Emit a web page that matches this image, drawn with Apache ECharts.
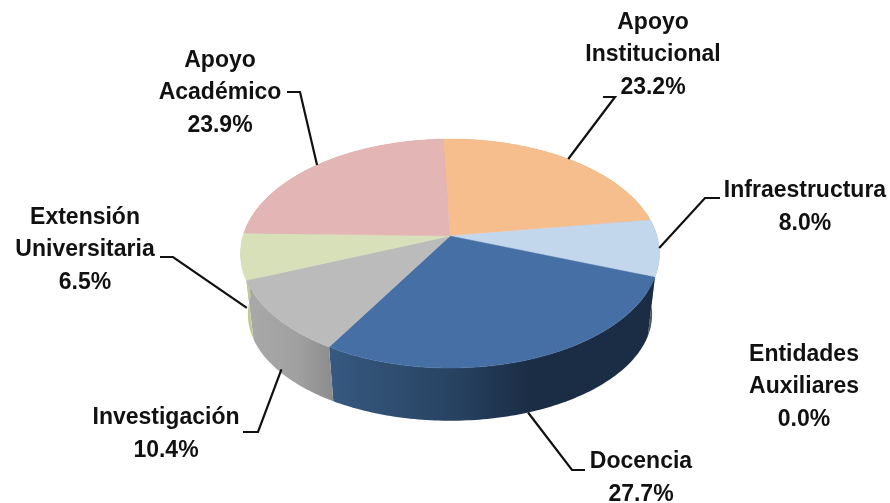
<!DOCTYPE html>
<html><head><meta charset="utf-8">
<style>html,body{margin:0;padding:0;background:#fff}#c{width:890px;height:503px}</style>
<script src="https://cdn.jsdelivr.net/npm/echarts@6/dist/echarts.min.js"></script>
</head><body><div id="c"></div>
<script>
const categories = ['Apoyo\nInstitucional','Infraestructura','Docencia','Investigación','Extensión\nUniversitaria','Apoyo\nAcadémico','Entidades\nAuxiliares'];
const shares = [23.2, 8.0, 27.7, 10.4, 6.5, 23.9, 0.0];

const topColors = ['#F6BE8D','#C3D7EC','#4670A5','#BBBBBB','#D7E0B9','#E3B6B5','#E8E8E8'];
const sideStops = [
  [[0,'#C4955F'],[1,'#C4955F']],
  [[0,'#22344C'],[0.6,'#5A6470'],[1,'#A0A8B0']],
  [[0,'#36597F'],[0.35,'#294565'],[0.62,'#1B2D45'],[1,'#1B2D45']],
  [[0,'#A9A9A9'],[0.6,'#A0A0A0'],[1,'#8C8C8C']],
  [[0,'#BFCC98'],[1,'#BFCC98']],
  [[0,'#B89090'],[1,'#B89090']],
  [[0,'#CCCCCC'],[1,'#CCCCCC']]
];
// geometry of the tilted disc (perspective projection of a circle)
const geo = {cx:450, cy:236, rx:207, ry:111.8, persp:0.153, start:-2.2,
             baseScaleX:0.965, baseScaleY:0.93, baseY:298};
// label layout: centre of text block, elbow start, elbow, rim fraction for leader end (0 top rim, 1 base rim)
const layout = [
  {x:653,y:54, from:[603,97], elbow:[615,97], rim:0},
  {x:805,y:206,from:[720,198],elbow:[705,198],rim:0},
  {x:641,y:477,from:[585,470],elbow:[572,470],rim:1},
  {x:166,y:433,from:[243,432],elbow:[258,432],rim:0.93},
  {x:85, y:249,from:[160,257],elbow:[173,257],rim:0.85},
  {x:220,y:92, from:[287,92], elbow:[300,92], rim:0},
  {x:804,y:386}
];
const FONT = {fontFamily:'"Liberation Sans", Arial, sans-serif', fontWeight:'bold', fontSize:23, lineHeight:32.5, fill:'#111'};

const total = shares.reduce((a,b)=>a+b,0);
const startAngles = [];
shares.reduce((acc,v,i)=>{startAngles[i]=acc; return acc+v/total*360;}, geo.start);

function rimTop(deg){
  const t=deg*Math.PI/180,u=Math.sin(t),v=-Math.cos(t),d=1-geo.persp*v;
  return [geo.rx*u/d, geo.ry*v/d];
}
function pt(deg,base){
  const p=rimTop(deg);
  return base?[geo.cx+p[0]*geo.baseScaleX, geo.baseY+p[1]*geo.baseScaleY]:[geo.cx+p[0], geo.cy+p[1]];
}
function arc(a0,a1,base){
  const out=[],n=Math.max(2,Math.ceil(a1-a0));
  for(let k=0;k<=n;k++) out.push(pt(a0+(a1-a0)*k/n,base));
  return out;
}
function span(api){
  const i=api.value(1), v=api.value(0);
  return {i,v,a0:startAngles[i],a1:startAngles[i]+v/total*360};
}
const rows = shares.map((v,i)=>[v,i]);

const chart = echarts.init(document.getElementById('c'),null,{renderer:'canvas'});
chart.setOption({
  animation:false,
  backgroundColor:'#fff',
  series:[
    {type:'custom',coordinateSystem:'none',silent:true,data:rows,z:1,
     renderItem(p,api){
       const s=span(api); if(!s.v) return null;
       return {type:'polygon',shape:{points:arc(s.a0,s.a1,false).concat(arc(s.a0,s.a1,true).reverse())},
         style:{fill:new echarts.graphic.LinearGradient(0,0,1,0,sideStops[s.i].map(c=>({offset:c[0],color:c[1]})))}};
     }},
    {type:'custom',coordinateSystem:'none',silent:true,data:rows,z:2,
     renderItem(p,api){
       const s=span(api); if(!s.v) return null;
       return {type:'polygon',shape:{points:[[geo.cx,geo.cy]].concat(arc(s.a0,s.a1,false))},
         style:{fill:topColors[s.i],stroke:topColors[s.i],lineWidth:0.5}};
     }},
    {type:'custom',coordinateSystem:'none',silent:true,data:rows,z:3,
     renderItem(p,api){
       const s=span(api), L=layout[s.i], kids=[];
       if(L.from){
         const mid=(s.a0+s.a1)/2, a=pt(mid,false), b=pt(mid,true);
         const end=[a[0]+(b[0]-a[0])*L.rim, a[1]+(b[1]-a[1])*L.rim];
         kids.push({type:'polyline',shape:{points:[L.from,L.elbow,end]},style:{stroke:'#111',lineWidth:2.2,fill:null}});
       }
       kids.push({type:'text',style:Object.assign({x:L.x,y:L.y+1,text:categories[s.i]+'\n'+s.v.toFixed(1)+'%',align:'center',verticalAlign:'middle'},FONT)});
       return {type:'group',children:kids};
     }}
  ]
});
</script></body></html>
